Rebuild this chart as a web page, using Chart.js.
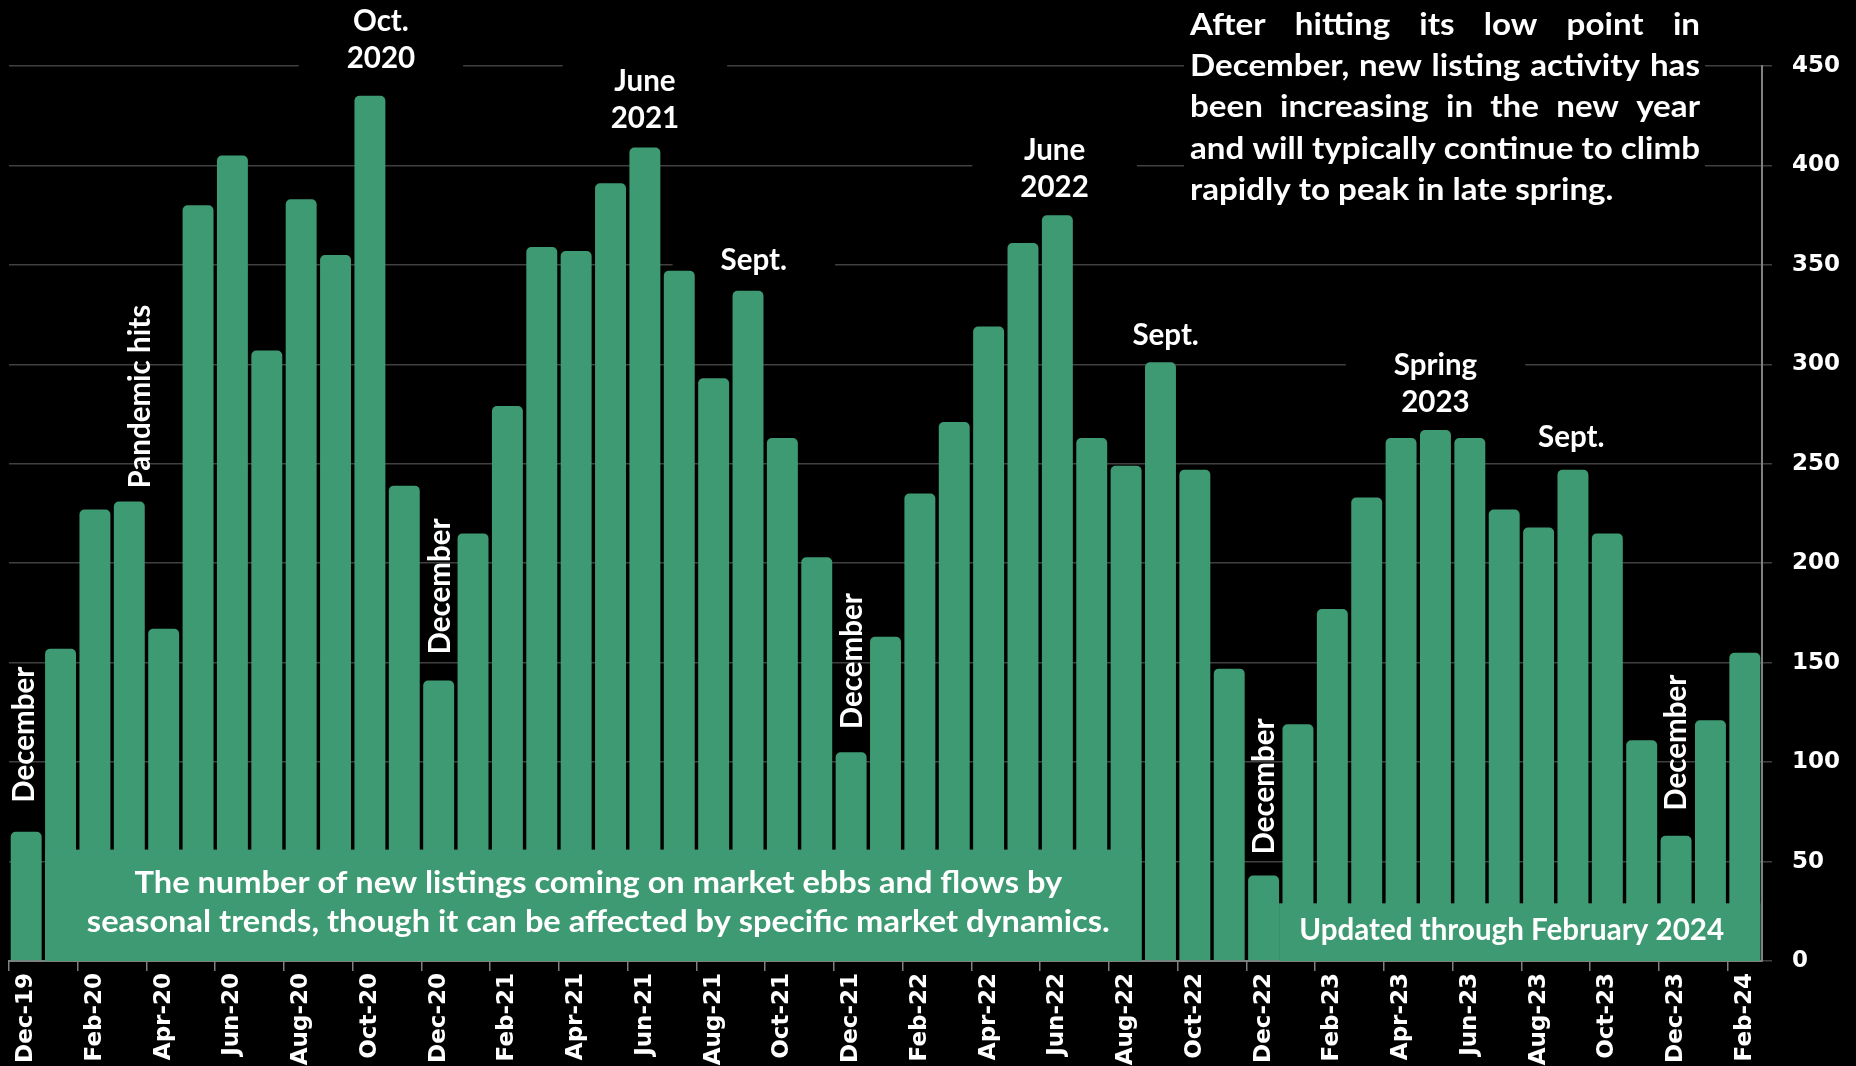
<!DOCTYPE html>
<html>
<head>
<meta charset="utf-8">
<script src="https://cdn.jsdelivr.net/npm/chart.js@4.4.1/dist/chart.umd.min.js"></script>
<style>
  html, body { margin: 0; padding: 0; background: #000; }
  #wrap { width: 1856px; height: 1066px; position: relative; }
  canvas { display: block; }
</style>
</head>
<body>
<div id="wrap"><canvas id="c" width="1856" height="1066"></canvas></div>
<script>
// ---------- DATA ----------
const months = ['Dec-19','Jan-20','Feb-20','Mar-20','Apr-20','May-20','Jun-20','Jul-20','Aug-20','Sep-20','Oct-20','Nov-20',
  'Dec-20','Jan-21','Feb-21','Mar-21','Apr-21','May-21','Jun-21','Jul-21','Aug-21','Sep-21','Oct-21','Nov-21',
  'Dec-21','Jan-22','Feb-22','Mar-22','Apr-22','May-22','Jun-22','Jul-22','Aug-22','Sep-22','Oct-22','Nov-22',
  'Dec-22','Jan-23','Feb-23','Mar-23','Apr-23','May-23','Jun-23','Jul-23','Aug-23','Sep-23','Oct-23','Nov-23',
  'Dec-23','Jan-24','Feb-24'];
const newListings = [65,157,227,231,167,380,405,307,383,355,435,239,
  141,215,279,359,357,391,409,347,293,337,263,203,
  105,163,235,271,319,361,375,263,249,301,247,147,
  43,119,177,233,263,267,263,227,218,247,215,111,
  63,121,155];
const yTicks = [0,50,100,150,200,250,300,350,400,450];

const verticalNotes = [
  {text:'December', index:0},
  {text:'Pandemic hits', index:3},
  {text:'December', index:12},
  {text:'December', index:24},
  {text:'December', index:36},
  {text:'December', index:48}
];
const horizontalNotes = [
  {lines:['Oct.','2020'], index:10},
  {lines:['June','2021'], index:18},
  {lines:['Sept.'], index:21},
  {lines:['June','2022'], index:30},
  {lines:['Sept.'], index:33},
  {lines:['Spring','2023'], index:41},
  {lines:['Sept.'], index:45}
];
const paragraphLines = [
  'After hitting its low point in',
  'December, new listing activity has',
  'been increasing in the new year',
  'and will typically continue to climb',
  'rapidly to peak in late spring.'
];
const box1Lines = [
  'The number of new listings coming on market ebbs and flows by',
  'seasonal trends, though it can be affected by specific market dynamics.'
];
const box2Text = 'Updated through February 2024';

// ---------- STYLE ----------
const GREEN = '#3e9a73';
const NOTE_FONT = 'bold 30px Lato';
const TICK_FONT = { family: 'DejaVu Sans', weight: 'bold', size: 23 };
// per-note layout offsets (style only): dx in category units, gap in px
const vStyle = [{dx:-0.07,gap:29},{dx:0.3,gap:13},{dx:0.03,gap:26},{dx:0.0,gap:23},{dx:0.0,gap:21},{dx:-0.03,gap:25}];
const hStyle = [{dx:0.32,gap:38},{dx:0,gap:29},{dx:0.17,gap:30},{dx:-0.08,gap:28},{dx:0.15,gap:27},{dx:0,gap:28},{dx:-0.05,gap:32}];
const LH = 37;

function drawH(ctx, str, x, y, align, sx) {
  ctx.save(); ctx.translate(x, y); ctx.scale(sx, 1);
  ctx.textAlign = align; ctx.textBaseline = 'middle';
  ctx.fillText(str, 0, 0); ctx.restore();
}

function hGeom(chart, n, k, labelSx) {
  const xs = chart.scales.x, ys = chart.scales.y, ctx = chart.ctx;
  const st = hStyle[k];
  const x = xs.getPixelForValue(n.index + st.dx);
  const lastY = ys.getPixelForValue(newListings[n.index]) - st.gap;
  const firstY = lastY - (n.lines.length - 1) * LH;
  let w = 0;
  n.lines.forEach(l => { w = Math.max(w, ctx.measureText(l).width * labelSx); });
  return { x, firstY, lastY, w };
}

const notesPlugin = {
  id: 'notes',
  beforeDraw(chart) {
    const ctx = chart.ctx;
    ctx.save(); ctx.fillStyle = '#000'; ctx.fillRect(0, 0, chart.width, chart.height); ctx.restore();
  },
  beforeDatasetsDraw(chart) {
    // black text-box backgrounds (over gridlines, under bars)
    const ctx = chart.ctx;
    ctx.save();
    ctx.font = NOTE_FONT;
    const labelSx = 136 / ctx.measureText('December').width;
    ctx.fillStyle = '#000';
    horizontalNotes.forEach((n, k) => {
      const g = hGeom(chart, n, k, labelSx);
      ctx.fillRect(g.x - g.w / 2 - 48, g.firstY - 20, g.w + 96, g.lastY - g.firstY + 40);
    });
    ctx.fillRect(1184, 0, 521, 212);
    ctx.restore();
  },
  afterDatasetsDraw(chart) {
    const ctx = chart.ctx, xs = chart.scales.x, ys = chart.scales.y;
    const xP = v => xs.getPixelForValue(v);
    const yP = v => ys.getPixelForValue(v);
    ctx.save();
    ctx.font = NOTE_FONT;
    const labelSx = 136 / ctx.measureText('December').width;
    ctx.fillStyle = '#fff';

    // vertical notes
    verticalNotes.forEach((n, k) => {
      const st = vStyle[k];
      const x = xP(n.index + st.dx);
      const bottom = yP(newListings[n.index]) - st.gap;
      ctx.save();
      ctx.translate(x, bottom); ctx.rotate(-Math.PI / 2); ctx.scale(labelSx, 1);
      ctx.textAlign = 'left'; ctx.textBaseline = 'middle';
      ctx.fillText(n.text, 0, 1);
      ctx.restore();
    });

    // horizontal notes
    horizontalNotes.forEach((n, k) => {
      const g = hGeom(chart, n, k, labelSx);
      n.lines.forEach((l, i) => drawH(ctx, l, g.x, g.firstY + i * LH, 'center', labelSx));
    });

    // top-right paragraph (justified)
    const pLeft = 1190, pRight = 1700, pW = pRight - pLeft;
    const pSx = pW / ctx.measureText(paragraphLines[3]).width;
    paragraphLines.forEach((line, i) => {
      const y = 25 + i * 41.4;
      if (i === paragraphLines.length - 1) { drawH(ctx, line, pLeft, y, 'left', pSx); return; }
      const words = line.split(' ');
      const ww = words.map(w => ctx.measureText(w).width * pSx);
      const total = ww.reduce((a, b) => a + b, 0);
      const gapW = (pW - total) / (words.length - 1);
      let cx = pLeft;
      words.forEach((w, j) => { drawH(ctx, w, cx, y, 'left', pSx); cx += ww[j] + gapW; });
    });

    // bottom-left green box
    const b1L = xP(1 - 0.45), b1R = xP(32 + 0.45), b1T = yP(56), b1B = yP(0);
    ctx.fillStyle = GREEN;
    ctx.fillRect(b1L, b1T, b1R - b1L, b1B - b1T);
    const b1Sx = 1023 / ctx.measureText(box1Lines[1]).width;
    ctx.fillStyle = '#fff';
    const b1C = (b1L + b1R) / 2 + 5;
    drawH(ctx, box1Lines[0], b1C, b1B - 78, 'center', b1Sx);
    drawH(ctx, box1Lines[1], b1C, b1B - 39, 'center', b1Sx);

    // bottom-right green box
    const b2L = xP(36 + 0.45), b2R = xP(50 + 0.45), b2T = yP(29), b2B = yP(0);
    ctx.fillStyle = GREEN;
    ctx.fillRect(b2L, b2T, b2R - b2L, b2B - b2T);
    const b2Sx = 425 / ctx.measureText(box2Text).width;
    ctx.fillStyle = '#fff';
    drawH(ctx, box2Text, (b2L + b2R) / 2 - 8, b2B - 31, 'center', b2Sx);
    ctx.restore();
  }
};

function build() {
  new Chart(document.getElementById('c'), {
    type: 'bar',
    data: {
      labels: months,
      datasets: [{
        data: newListings,
        backgroundColor: GREEN,
        borderRadius: 5,
        borderSkipped: 'start',
        barPercentage: 0.9,
        categoryPercentage: 1.0
      }]
    },
    options: {
      responsive: false,
      animation: false,
      devicePixelRatio: 1,
      layout: { padding: { left: 9, top: 66, right: 0, bottom: 0 } },
      plugins: { legend: { display: false }, tooltip: { enabled: false } },
      scales: {
        x: {
          offset: true,
          grid: {
            display: true, drawOnChartArea: false, drawTicks: true, tickLength: 10, offset: true,
            color: c => (typeof c.index === 'number' && c.index % 2 === 0) ? '#808080' : 'rgba(0,0,0,0)',
            lineWidth: 1.5
          },
          border: { display: true, color: '#808080', width: 2 },
          ticks: {
            autoSkip: false, minRotation: 90, maxRotation: 90, padding: 2,
            color: '#fff', font: TICK_FONT,
            callback: (v, i) => (i % 2 === 0 ? months[i] : '')
          },
          afterFit: s => { s.height = 105; }
        },
        y: {
          position: 'right',
          min: 0, max: 450,
          afterBuildTicks: s => { s.ticks = yTicks.map(v => ({ value: v })); },
          grid: { color: '#404040', lineWidth: 1.5, tickLength: 10, drawTicks: true },
          border: { display: true, color: '#808080', width: 2 },
          ticks: { padding: 20, color: '#fff', font: TICK_FONT },
          afterFit: s => { s.width = 94; }
        }
      }
    },
    plugins: [notesPlugin]
  });
}

Promise.all([
  document.fonts.load('bold 30px Lato'),
  document.fonts.load('bold 23px "DejaVu Sans"')
]).then(build, build);
</script>
</body>
</html>
